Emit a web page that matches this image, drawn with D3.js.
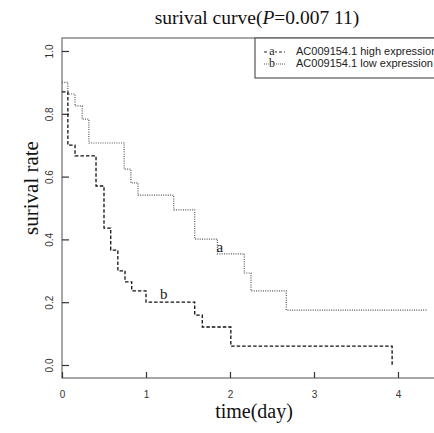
<!DOCTYPE html>
<html><head><meta charset="utf-8">
<script src="https://cdnjs.cloudflare.com/ajax/libs/d3/7.8.5/d3.min.js"></script>
<style>body{margin:0;background:#fff}svg{display:block}</style>
</head><body>
<svg id="c" width="434" height="433"></svg>
<script>
const titlePrefix = "surival curve(";
const titleP = "P";
const titleSuffix = "=0.007 11)";
const xLabel = "time(day)";
const yLabel = "surival rate";
const xTicks = [0, 1, 2, 3, 4];
const yTicks = [0, 0.2, 0.4, 0.6, 0.8, 1.0];
// curve labelled "a" (dotted, upper)
const aTime = [0, 0.07, 0.155, 0.24, 0.32, 0.74, 0.82, 0.905, 1.33, 1.58, 1.85, 2.17, 2.25, 2.67, 4.35];
const aSurv = [0.90, 0.863, 0.825, 0.783, 0.707, 0.624, 0.58, 0.541, 0.494, 0.401, 0.354, 0.293, 0.236, 0.175, 0.175];
// curve labelled "b" (dashed, lower)
const bTime = [0, 0.07, 0.155, 0.405, 0.50, 0.58, 0.665, 0.75, 0.83, 1.0, 1.58, 1.67, 2.01, 3.93];
const bSurv = [0.87, 0.70, 0.666, 0.57, 0.436, 0.366, 0.30, 0.265, 0.236, 0.20, 0.159, 0.121, 0.06, 0.0];
const legendLetters = ["a", "b"];
const legendNames = ["AC009154.1 high expression", "AC009154.1 low expression"];
const curveLabelPos = [[1.88, 0.36], [1.21, 0.21]];

const svg = d3.select("#c");
const x = d3.scaleLinear().domain([0, 4]).range([62, 398]);
const y = d3.scaleLinear().domain([0, 1]).range([365, 51]);
const frameTop = 38, frameBottom = 378, frameLeft = 62, frameRight = 440;
const axisColor = "#8a8a8a";

// frame
svg.append("path")
  .attr("d", `M${frameRight},${frameTop}H${frameLeft}V${frameBottom}H${frameRight}`)
  .attr("fill", "none").attr("stroke", axisColor).attr("stroke-width", 1.5);

// x axis
const gx = svg.append("g").attr("transform", `translate(0,${frameBottom})`)
  .call(d3.axisBottom(x).tickValues(xTicks).tickFormat(d3.format("d")).tickSize(-6).tickSizeOuter(0).tickPadding(13));
gx.select(".domain").remove();
gx.selectAll(".tick line").attr("stroke", "#333").attr("stroke-width", 1.2);
gx.selectAll("text").attr("font-family", "Liberation Sans, Arial, sans-serif").attr("font-size", 10).attr("fill", "#333");

// y axis
const gy = svg.append("g").attr("transform", `translate(${frameLeft},0)`)
  .call(d3.axisLeft(y).tickValues(yTicks).tickFormat(d3.format(".1f")).tickSize(-7).tickSizeOuter(0));
gy.select(".domain").remove();
gy.selectAll(".tick line").attr("stroke", "#333").attr("stroke-width", 1.2);
gy.selectAll("text").attr("font-family", "Liberation Sans, Arial, sans-serif").attr("font-size", 10).attr("fill", "#333")
  .attr("x", null).attr("dy", null).attr("text-anchor", "middle")
  .attr("transform", "translate(-9,0) rotate(-90)");

// curves
const line = d3.line().x(d => x(d[0])).y(d => y(d[1])).curve(d3.curveStepAfter);
svg.append("path").datum(aTime.map((t, i) => [t, aSurv[i]]))
  .attr("d", line).attr("fill", "none").attr("stroke", "#555").attr("stroke-width", 1.2)
  .attr("stroke-dasharray", "1,1.3");
svg.append("path").datum(bTime.map((t, i) => [t, bSurv[i]]))
  .attr("d", line).attr("fill", "none").attr("stroke", "#111").attr("stroke-width", 1.3)
  .attr("stroke-dasharray", "3.5,2");

// curve labels
svg.selectAll("text.cl").data(legendLetters).join("text").attr("class", "cl")
  .attr("x", (d, i) => x(curveLabelPos[i][0])).attr("y", (d, i) => y(curveLabelPos[i][1]))
  .attr("text-anchor", "middle").attr("font-family", "Liberation Serif, Times New Roman, serif")
  .attr("font-size", 15).attr("fill", "#222").text(d => d);

// legend
svg.append("rect").attr("x", 255).attr("y", frameTop).attr("width", 200).attr("height", 40)
  .attr("fill", "#fff").attr("stroke", "#555").attr("stroke-width", 1.2);
const leg = svg.selectAll("g.leg").data(legendNames).join("g").attr("class", "leg")
  .attr("transform", (d, i) => `translate(0,${55 + i * 12})`);
leg.append("line").attr("x1", 264).attr("x2", 285).attr("y1", -3).attr("y2", -3)
  .attr("stroke", (d, i) => i === 0 ? "#222" : "#555").attr("stroke-width", 1)
  .attr("stroke-dasharray", (d, i) => i === 0 ? "3,2" : "1,1");
leg.append("text").attr("x", 272).attr("y", 0).attr("text-anchor", "middle")
  .attr("font-family", "Liberation Serif, Times New Roman, serif").attr("font-size", 12).attr("fill", "#222")
  .attr("stroke", "#fff").attr("stroke-width", 2).attr("paint-order", "stroke")
  .text((d, i) => legendLetters[i]);
leg.append("text").attr("x", 296).attr("y", 0)
  .attr("font-family", "Liberation Sans, Arial, sans-serif").attr("font-size", 11).attr("fill", "#222")
  .text(d => d);

// title
const title = svg.append("text").attr("x", 257).attr("y", 24).attr("text-anchor", "middle")
  .attr("font-family", "Liberation Serif, Times New Roman, serif").attr("font-size", 19.5).attr("fill", "#111");
title.append("tspan").text(titlePrefix);
title.append("tspan").attr("font-style", "italic").text(titleP);
title.append("tspan").text(titleSuffix);

// axis titles
svg.append("text").attr("x", 254).attr("y", 418).attr("text-anchor", "middle")
  .attr("font-family", "Liberation Serif, Times New Roman, serif").attr("font-size", 20).attr("fill", "#111").text(xLabel);
svg.append("text").attr("transform", "translate(38,188) rotate(-90)").attr("text-anchor", "middle")
  .attr("font-family", "Liberation Serif, Times New Roman, serif").attr("font-size", 21).attr("fill", "#111").text(yLabel);
</script>
</body></html>
